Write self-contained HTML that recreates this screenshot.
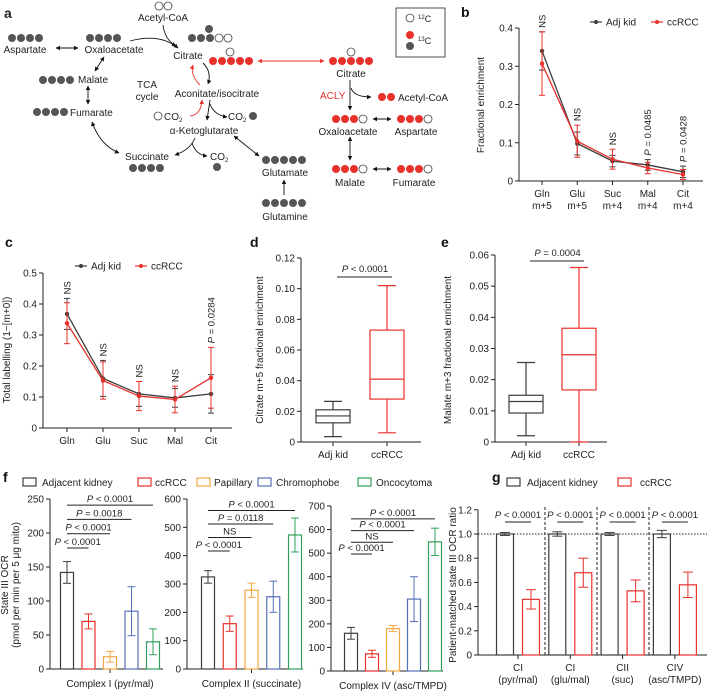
<!DOCTYPE html>
<html><head><meta charset="utf-8"><style>
html,body{margin:0;padding:0;background:#fff}
svg{display:block;font-family:"Liberation Sans",Arial,sans-serif}
</style></head><body>
<svg id="fig" width="708" height="692" viewBox="0 0 708 692" xmlns="http://www.w3.org/2000/svg">
<defs>
<marker id="ak" viewBox="0 0 10 10" refX="9" refY="5" markerWidth="5" markerHeight="5" orient="auto-start-reverse"><path d="M0,0L10,5L0,10z" fill="#111"/></marker>
<marker id="ar" viewBox="0 0 10 10" refX="9" refY="5" markerWidth="5" markerHeight="5" orient="auto-start-reverse"><path d="M0,0L10,5L0,10z" fill="#e8312b"/></marker>
</defs>
<g id="panelA" font-size="10" fill="#222">
<text x="4" y="18" font-size="14" font-weight="bold">a</text>
<text x="163" y="21" text-anchor="middle">Acetyl-CoA</text>
<text x="25" y="53" text-anchor="middle">Aspartate</text>
<text x="114" y="53" text-anchor="middle">Oxaloacetate</text>
<text x="188" y="59" text-anchor="middle">Citrate</text>
<text x="351" y="77" text-anchor="middle">Citrate</text>
<text x="78" y="83">Malate</text>
<text x="147" y="88" text-anchor="middle">TCA</text>
<text x="147" y="100" text-anchor="middle">cycle</text>
<text x="217" y="97" text-anchor="middle">Aconitate/isocitrate</text>
<text x="70" y="116">Fumarate</text>
<text x="164" y="120">CO<tspan font-size="6" dy="2">2</tspan></text>
<text x="228" y="120">CO<tspan font-size="6" dy="2">2</tspan></text>
<text x="204" y="134" text-anchor="middle">α-Ketoglutarate</text>
<text x="320" y="99" fill="#e8312b">ACLY</text>
<text x="398" y="101">Acetyl-CoA</text>
<text x="348" y="135" text-anchor="middle">Oxaloacetate</text>
<text x="416" y="135" text-anchor="middle">Aspartate</text>
<text x="147" y="160" text-anchor="middle">Succinate</text>
<text x="210" y="160">CO<tspan font-size="6" dy="2">2</tspan></text>
<text x="285" y="176" text-anchor="middle">Glutamate</text>
<text x="285" y="220" text-anchor="middle">Glutamine</text>
<text x="350" y="186" text-anchor="middle">Malate</text>
<text x="414" y="186" text-anchor="middle">Fumarate</text>
<rect x="396" y="8" width="49" height="49" fill="none" stroke="#222" stroke-width="0.8"/>
<text x="418" y="22" font-size="9"><tspan font-size="6" dy="-3">12</tspan><tspan dy="3">C</tspan></text>
<text x="418" y="44" font-size="9"><tspan font-size="6" dy="-3">13</tspan><tspan dy="3">C</tspan></text>
<g fill="none" stroke="#111" stroke-width="0.9">
<path d="M56,48L78,48" marker-start="url(#ak)" marker-end="url(#ak)"/>
<path d="M130,41Q160,33 178,48" marker-end="url(#ak)"/>
<path d="M163,25Q165,40 176,46" marker-end="url(#ak)"/>
<path d="M104,57L95,71" marker-start="url(#ak)" marker-end="url(#ak)"/>
<path d="M88,86L88,104" marker-start="url(#ak)" marker-end="url(#ak)"/>
<path d="M92,122Q100,145 119,153" marker-start="url(#ak)" marker-end="url(#ak)"/>
<path d="M195,138Q190,150 175,155" marker-end="url(#ak)"/>
<path d="M192,143Q196,155 207,156" marker-end="url(#ak)"/>
<path d="M234,136L259,156" marker-start="url(#ak)" marker-end="url(#ak)"/>
<path d="M284,195L284,180" marker-end="url(#ak)"/>
<path d="M203,63Q212,72 208,84" marker-end="url(#ak)"/>
<path d="M210,100L207,120" marker-end="url(#ak)"/>
<path d="M210,104Q214,115 227,117" marker-end="url(#ak)"/>
<path d="M350,80L350,110" marker-end="url(#ak)"/>
<path d="M351,88Q354,97 371,97" marker-end="url(#ak)"/>
<path d="M373,119L391,119" marker-start="url(#ak)" marker-end="url(#ak)"/>
<path d="M350,137L350,160" marker-start="url(#ak)" marker-end="url(#ak)"/>
<path d="M373,169L391,169" marker-start="url(#ak)" marker-end="url(#ak)"/>
</g>
<g fill="none" stroke="#e8312b" stroke-width="0.9">
<path d="M258,61L324,61" marker-start="url(#ar)" marker-end="url(#ar)"/>
<path d="M200,85Q190,75 193,65" marker-end="url(#ar)"/>
<path d="M190,116Q201,115 202,100" marker-end="url(#ar)"/>
</g>
<g id="circles"></g>
</g>
</svg>
<script>
const NS='http://www.w3.org/2000/svg';
const svg=document.getElementById('fig');
function el(tag,attrs,parent,text){const e=document.createElementNS(NS,tag);for(const k in attrs)e.setAttribute(k,attrs[k]);if(text!=null)e.textContent=text;(parent||svg).appendChild(e);return e;}
const DARK='#3c3c3c',RED='#e8312b';
/* ---- diagram carbon rows (not chart data) ---- */
const atomRows=[[159,6,'oo'],[12,38,'dddd'],[90,38,'dddd'],[192,38,'dddoo'],[209,29,'d'],[213,61,'rrrrr'],[230,52,'o'],[333,61,'rrrrr'],[351,52,'o'],[43,80,'dddd'],[37,112,'dddd'],[158,116,'o'],[253,116,'d'],[382,97,'rr'],[336,119,'rrro'],[401,119,'rrro'],[133,168,'dddd'],[217,167,'d'],[266,160,'ddddd'],[266,203,'ddddd'],[336,169,'rrro'],[401,169,'rrro'],[410,18,'o'],[410,35,'r'],[410,46,'d']];
const cg=document.getElementById('circles');
atomRows.forEach(r=>{for(let i=0;i<r[2].length;i++){const t=r[2][i];const c=el('circle',{cx:r[0]+i*9,cy:r[1],r:4,fill:t==='d'?'#555':t==='r'?RED:'#fff',stroke:t==='o'?'#444':'none','stroke-width':0.8},cg);

}});

/* ---- chart data ---- */
const bCats=[['Gln','m+5'],['Glu','m+5'],['Suc','m+4'],['Mal','m+4'],['Cit','m+4']];
const bAdj=[0.34,0.098,0.052,0.042,0.024];
const bAdjErr=[0.05,0.03,0.015,0.014,0.015];
const bRcc=[0.307,0.104,0.057,0.034,0.017];
const bRccErr=[0.083,0.042,0.026,0.015,0.013];
const bSig=['NS','NS','NS','P = 0.0485','P = 0.0428'];
const bTicks=[0,0.1,0.2,0.3,0.4];
const cCats=['Gln','Glu','Suc','Mal','Cit'];
const cAdj=[0.368,0.16,0.11,0.097,0.11];
const cAdjErr=[0.05,0.058,0.04,0.03,0.062];
const cRcc=[0.338,0.153,0.103,0.092,0.162];
const cRccErr=[0.066,0.06,0.047,0.043,0.098];
const cSig=['NS','NS','NS','NS','P = 0.0284'];
const cTicks=[0,0.1,0.2,0.3,0.4,0.5];
const boxCats=['Adj kid','ccRCC'];
const dStats=[[0.0035,0.0125,0.017,0.021,0.0265],[0.006,0.028,0.041,0.073,0.102]];
const dTicks=[0,0.02,0.04,0.06,0.08,0.10,0.12];
const dP='P < 0.0001';
const eStats=[[0.002,0.0093,0.013,0.015,0.0255],[0,0.0167,0.028,0.0365,0.056]];
const eTicks=[0,0.01,0.02,0.03,0.04,0.05,0.06];
const eP='P = 0.0004';
const fGroups=['Adjacent kidney','ccRCC','Papillary','Chromophobe','Oncocytoma'];
const f1Vals=[142,70,18,85,40];
const f1Err=[16,11,8,36,19];
const f2Vals=[325,160,278,255,473];
const f2Err=[22,27,25,55,60];
const f3Vals=[160,73,180,305,548];
const f3Err=[25,15,13,95,58];
const f1Ticks=[0,50,100,150,200,250];
const f2Ticks=[0,100,200,300,400,500,600];
const f3Ticks=[0,100,200,300,400,500,600,700];
const f1Sig=[[0,1,'P < 0.0001'],[0,2,'P < 0.0001'],[0,3,'P = 0.0018'],[0,4,'P < 0.0001']];
const f2Sig=[[0,1,'P < 0.0001'],[0,2,'NS'],[0,3,'P = 0.0118'],[0,4,'P < 0.0001']];
const f3Sig=[[0,1,'P < 0.0001'],[0,2,'NS'],[0,3,'P < 0.0001'],[0,4,'P < 0.0001']];
const gCats=[['CI','(pyr/mal)'],['CI','(glu/mal)'],['CII','(suc)'],['CIV','(asc/TMPD)']];
const gAdj=[1.0,1.0,1.0,1.0];
const gAdjErr=[0.012,0.018,0.012,0.03];
const gRcc=[0.46,0.68,0.53,0.58];
const gRccErr=[0.08,0.12,0.09,0.105];
const gSig=['P < 0.0001','P < 0.0001','P < 0.0001','P < 0.0001'];
const gTicks=[0,0.2,0.4,0.6,0.8,1.0,1.2];
const fColors=['#3c3c3c','#e8312b','#f5a742','#5570b8','#2fa05a'];

function fmt(v,d){return v===0?'0':v.toFixed(d);}
function pText(parent,x,y,s,anchor,rot){const t=el('text',{x:x,y:y,'text-anchor':anchor||'middle','font-size':9.5,fill:'#222'},parent);
if(rot)t.setAttribute('transform','rotate(-90 '+x+' '+y+')');
if(s.startsWith('P')){el('tspan',{'font-style':'italic'},t,'P');el('tspan',{},t,s.slice(1));}else t.textContent=s;return t;}
function yAxis(g,x,yTop,yBot,ticks,yf,dec){el('line',{x1:x,y1:yTop,x2:x,y2:yBot,stroke:'#222','stroke-width':1},g);
ticks.forEach(v=>{const y=yf(v);el('line',{x1:x-4,y1:y,x2:x,y2:y,stroke:'#222','stroke-width':1},g);
const t=el('text',{x:x-6,y:y+3.5,'text-anchor':'end','font-size':10,fill:'#222'},g,fmt(v,dec));

});}
function yTitle(g,x,y,lines){lines.forEach((s,i)=>{const t=el('text',{x:x+i*11,y:y,'text-anchor':'middle','font-size':10,fill:'#222',transform:'rotate(-90 '+(x+i*11)+' '+y+')'},g,s);

});}
function label(x,y,s){const t=el('text',{x:x,y:y,'font-size':14,'font-weight':'bold',fill:'#111'},svg,s);

}
function errBar(g,x,yc,yl,yh,col,cap){el('line',{x1:x,y1:yl,x2:x,y2:yh,stroke:col,'stroke-width':1},g);
el('line',{x1:x-cap,y1:yl,x2:x+cap,y2:yl,stroke:col,'stroke-width':1},g);
el('line',{x1:x-cap,y1:yh,x2:x+cap,y2:yh,stroke:col,'stroke-width':1},g);}

/* ---- line charts b, c ---- */
function lineChart(name,cfg){const g=el('g',{});


yAxis(g,cfg.ax,cfg.yf(cfg.ticks[cfg.ticks.length-1]),cfg.y0,cfg.ticks,cfg.yf,1);
el('line',{x1:cfg.ax,y1:cfg.y0,x2:cfg.axEnd,y2:cfg.y0,stroke:'#222','stroke-width':1},g);
cfg.cats.forEach((c,i)=>{const x=cfg.xf(i);el('line',{x1:x,y1:cfg.y0,x2:x,y2:cfg.y0+4,stroke:'#222'},g);
const lines=Array.isArray(c)?c:[c];lines.forEach((s,k)=>{const t=el('text',{x:x,y:cfg.y0+16+k*12,'text-anchor':'middle','font-size':10,fill:'#222'},g,s);

});});
[[cfg.adj,cfg.adjErr,DARK,'adj-kid-series'],[cfg.rcc,cfg.rccErr,RED,'ccrcc-series']].forEach(([vals,errs,col,nm])=>{
const sg=el('g',{},g);


vals.forEach((v,i)=>errBar(sg,cfg.xf(i),cfg.yf(v),cfg.yf(v-errs[i]),cfg.yf(v+errs[i]),col,3));
const pl=el('polyline',{points:vals.map((v,i)=>cfg.xf(i)+','+cfg.yf(v)).join(' '),fill:'none',stroke:col,'stroke-width':1.3},sg);


vals.forEach((v,i)=>{const p=el('circle',{cx:cfg.xf(i),cy:cfg.yf(v),r:2.2,fill:col},sg);

});});
cfg.sig.forEach((s,i)=>{const top=Math.max(cfg.adj[i]+cfg.adjErr[i],cfg.rcc[i]+cfg.rccErr[i]);
const t=pText(g,cfg.xf(i)+3.5,cfg.yf(top)-4,s,'start',true);

});
const L=cfg.leg;[[DARK,'Adj kid',L[0]],[RED,'ccRCC',L[1]]].forEach(([col,s,x])=>{
el('line',{x1:x,y1:L[2],x2:x+12,y2:L[2],stroke:col,'stroke-width':1.2},g);el('circle',{cx:x+6,cy:L[2],r:2,fill:col},g);
const t=el('text',{x:x+16,y:L[2]+3.5,'font-size':10,fill:'#222'},g,s);

});
yTitle(g,cfg.titleX,cfg.titleY,[cfg.title]);}
label(461,17,'b');
lineChart('fractional-enrichment-chart',{cats:bCats,adj:bAdj,adjErr:bAdjErr,rcc:bRcc,rccErr:bRccErr,sig:bSig,ticks:bTicks,
yf:v=>181-v*382.5,xf:i=>542+i*35.25,ax:519,axEnd:703,y0:181,leg:[590,651,22],title:'Fractional enrichment',titleX:484,titleY:105});
label(5,247,'c');
lineChart('total-labelling-chart',{cats:cCats,adj:cAdj,adjErr:cAdjErr,rcc:cRcc,rccErr:cRccErr,sig:cSig,ticks:cTicks,
yf:v=>428-v*310,xf:i=>67+i*36,ax:43,axEnd:232,y0:428,leg:[75,135,266],title:'Total labelling (1−[m+0])',titleX:10,titleY:350});

/* ---- box plots d, e ---- */
function boxChart(name,cfg){const g=el('g',{});


yAxis(g,cfg.ax,cfg.yf(cfg.ticks[cfg.ticks.length-1]),cfg.y0,cfg.ticks,cfg.yf,cfg.dec);
el('line',{x1:cfg.ax,y1:cfg.y0,x2:cfg.axEnd,y2:cfg.y0,stroke:'#222','stroke-width':1},g);
boxCats.forEach((c,i)=>{const x=cfg.xs[i];const col=i?RED:DARK;const s=cfg.stats[i];const hw=17;
el('line',{x1:x,y1:cfg.y0,x2:x,y2:cfg.y0+4,stroke:'#222'},g);
const t=el('text',{x:x,y:cfg.y0+16,'text-anchor':'middle','font-size':10,fill:'#222'},g,c);


const bg=el('g',{stroke:col,'stroke-width':1.2,fill:'none'},g);


el('line',{x1:x,y1:cfg.yf(s[0]),x2:x,y2:cfg.yf(s[1])},bg);el('line',{x1:x,y1:cfg.yf(s[3]),x2:x,y2:cfg.yf(s[4])},bg);
el('line',{x1:x-9,y1:cfg.yf(s[0]),x2:x+9,y2:cfg.yf(s[0])},bg);el('line',{x1:x-9,y1:cfg.yf(s[4]),x2:x+9,y2:cfg.yf(s[4])},bg);
el('rect',{x:x-hw,y:cfg.yf(s[3]),width:2*hw,height:cfg.yf(s[1])-cfg.yf(s[3])},bg);
el('line',{x1:x-hw,y1:cfg.yf(s[2]),x2:x+hw,y2:cfg.yf(s[2])},bg);});
el('line',{x1:cfg.xs[0]+4,y1:cfg.py,x2:cfg.xs[1]+5,y2:cfg.py,stroke:'#222','stroke-width':1},g);
const p=pText(g,(cfg.xs[0]+cfg.xs[1])/2+5,cfg.py-5,cfg.p);


yTitle(g,cfg.titleX,cfg.titleY,[cfg.title]);}
label(250,247,'d');
boxChart('citrate-boxplot',{stats:dStats,ticks:dTicks,dec:2,p:dP,yf:v=>442-v*1533.3,xs:[333,387],ax:301,axEnd:421,y0:442,py:277,title:'Citrate m+5 fractional enrichment',titleX:263,titleY:350});
label(441,247,'e');
boxChart('malate-boxplot',{stats:eStats,ticks:eTicks,dec:2,p:eP,yf:v=>442-v*3116.7,xs:[526,579],ax:495,axEnd:607,y0:442,py:261,title:'Malate m+3 fractional enrichment',titleX:451,titleY:350});

/* ---- bar charts f ---- */
label(3,482,'f');
const fl=[[23,42],[138,155],[197,214],[258,276],[358,376]];
fGroups.forEach((s,i)=>{el('rect',{x:fl[i][0],y:478,width:13,height:8,fill:'#fff',stroke:fColors[i],'stroke-width':1.2});
const t=el('text',{x:fl[i][1],y:486,'font-size':10,fill:'#222'},svg,s);

});
function barChart(name,cfg){const g=el('g',{});


yAxis(g,cfg.ax,cfg.yf(cfg.ticks[cfg.ticks.length-1]),cfg.y0,cfg.ticks,cfg.yf,0);
el('line',{x1:cfg.ax,y1:cfg.y0,x2:cfg.axEnd,y2:cfg.y0,stroke:'#222','stroke-width':1},g);
el('line',{x1:cfg.xf(2),y1:cfg.y0,x2:cfg.xf(2),y2:cfg.y0+4,stroke:'#222'},g);
const t=el('text',{x:cfg.xf(2),y:cfg.y0+18,'text-anchor':'middle','font-size':10,fill:'#222'},g,cfg.xlabel);


cfg.vals.forEach((v,i)=>{const x=cfg.xf(i),col=fColors[i];
const b=el('rect',{x:x-6.5,y:cfg.yf(v),width:13,height:cfg.y0-cfg.yf(v),fill:'#fff',stroke:col,'stroke-width':1.2},g);


errBar(g,x,0,cfg.yf(v-cfg.err[i]),cfg.yf(v+cfg.err[i]),col,4);});
cfg.sig.forEach((s,k)=>{const y=cfg.sb-k*cfg.ss;const x1=cfg.xf(s[0]),x2=cfg.xf(s[1]);
el('line',{x1:x1,y1:y,x2:x2,y2:y,stroke:'#222','stroke-width':1},g);
const p=pText(g,(x1+x2)/2,y-3,s[2]);

});}
barChart('complex-i-chart',{vals:f1Vals,err:f1Err,ticks:f1Ticks,sig:f1Sig,yf:v=>669-v*0.68,xf:i=>67+i*21.5,ax:50,axEnd:163,y0:669,sb:548,ss:14.3,xlabel:'Complex I (pyr/mal)'});
barChart('complex-ii-chart',{vals:f2Vals,err:f2Err,ticks:f2Ticks,sig:f2Sig,yf:v=>669-v*170/600,xf:i=>208+i*21.75,ax:187,axEnd:303,y0:669,sb:551,ss:13.5,xlabel:'Complex II (succinate)'});
barChart('complex-iv-chart',{vals:f3Vals,err:f3Err,ticks:f3Ticks,sig:f3Sig,yf:v=>671-v*165/700,xf:i=>351+i*21,ax:331,axEnd:443,y0:671,sb:554,ss:11.7,xlabel:'Complex IV (asc/TMPD)'});
(function(){const g=el('g',{});


yTitle(g,8,585,['State III OCR','(pmol per min per 5 μg mito)']);})();

/* ---- g ---- */
label(492,482,'g');
[[507,527,DARK,'Adjacent kidney'],[618,640,RED,'ccRCC']].forEach(([bx,tx,col,s])=>{el('rect',{x:bx,y:478,width:13,height:8,fill:'#fff',stroke:col,'stroke-width':1.2});
const t=el('text',{x:tx,y:486,'font-size':10,fill:'#222'},svg,s);

});
(function(){const g=el('g',{});


const yf=v=>655-v*121, ax=i=>505+i*52.3, rx=i=>531+i*52.3, y0=655;
yAxis(g,478,yf(1.2),y0,gTicks,yf,1);
el('line',{x1:478,y1:y0,x2:707,y2:y0,stroke:'#222','stroke-width':1},g);
el('line',{x1:478,y1:yf(1),x2:707,y2:yf(1),stroke:'#222','stroke-width':1,'stroke-dasharray':'1.5,1.5'},g);
[545,597,649].forEach(x=>el('line',{x1:x,y1:507,x2:x,y2:y0,stroke:'#222','stroke-width':1,'stroke-dasharray':'3,2'},g));
gCats.forEach((c,i)=>{const xm=(ax(i)+rx(i))/2;
el('line',{x1:xm,y1:y0,x2:xm,y2:y0+4,stroke:'#222'},g);
c.forEach((s,k)=>{const t=el('text',{x:xm,y:y0+16+k*12,'text-anchor':'middle','font-size':10,fill:'#222'},g,s);

});
const b1=el('rect',{x:ax(i)-8.5,y:yf(gAdj[i]),width:17,height:y0-yf(gAdj[i]),fill:'#fff',stroke:DARK,'stroke-width':1.2},g);


errBar(g,ax(i),0,yf(gAdj[i]-gAdjErr[i]),yf(gAdj[i]+gAdjErr[i]),DARK,5);
const b2=el('rect',{x:rx(i)-8.5,y:yf(gRcc[i]),width:17,height:y0-yf(gRcc[i]),fill:'#fff',stroke:RED,'stroke-width':1.2},g);


errBar(g,rx(i),0,yf(gRcc[i]-gRccErr[i]),yf(gRcc[i]+gRccErr[i]),RED,5);
el('line',{x1:ax(i),y1:522,x2:rx(i),y2:522,stroke:'#222','stroke-width':1},g);
const p=pText(g,xm,518,gSig[i]);

});
yTitle(g,456,585,['Patient-matched state III OCR ratio']);})();
</script>
</body></html>
